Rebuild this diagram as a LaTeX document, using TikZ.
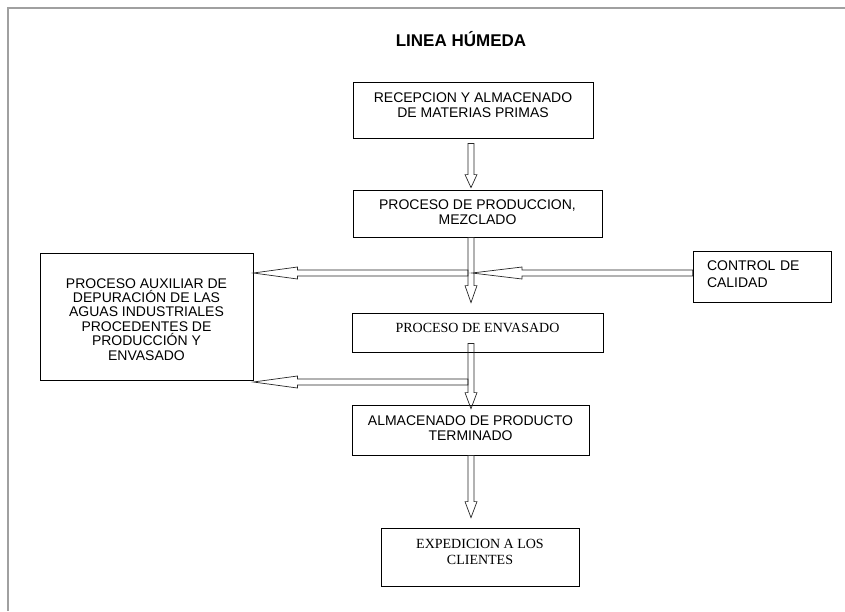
\documentclass[tikz,border=0pt]{standalone}
\usepackage{fontspec}
\setmainfont{Liberation Serif}
\setsansfont{Liberation Sans}
\usetikzlibrary{calc}
\definecolor{pagegray}{HTML}{A0A0A0}
\tikzset{
  stage/.style={draw, line width=0.8pt, inner sep=0pt, align=center,
    font=\sffamily\fontsize{14}{15}\selectfont},
  stageserif/.style={stage, font=\rmfamily\fontsize{14}{16}\selectfont},
  flowarrow/.style={draw=black!85, line width=0.7pt, line join=miter},
  pageedge/.style={draw=pagegray, line width=1.5pt}
}
\newcommand{\hollowarrow}[3]{%
  \draw[flowarrow] let \p1=(#1), \p2=(#2),
    \n1={atan2(\y2-\y1,\x2-\x1)}, \n2={veclen(\x2-\x1,\y2-\y1)} in
    [shift={(\p1)}, rotate=\n1]
    (0pt,3pt) -- ({\n2-#3},3pt) -- ({\n2-#3},6pt) -- (\n2,0pt)
    -- ({\n2-#3},-6pt) -- ({\n2-#3},-3pt) -- (0pt,-3pt) -- cycle;}

\begin{document}
\begin{tikzpicture}[x=1pt, y=-1pt]
  \useasboundingbox (0,0) rectangle (845,611);
  \draw[pageedge] (8,611) -- (8,8) -- (845,8);
  \node[font=\sffamily\bfseries\fontsize{17}{19}\selectfont, anchor=base] (title) at (461,46) {LINEA HÚMEDA};
  % main line
  \node[stage, minimum width=240pt, text height=35pt, text depth=21pt] (rec) at (473,110)
    {RECEPCION Y ALMACENADO\\DE MATERIAS PRIMAS};
  \node[stage, minimum width=249pt, text height=34pt, text depth=13pt] (prod) at (477.5,213.5)
    {PROCESO DE PRODUCCION,\\MEZCLADO};
  \node[stageserif, minimum width=251pt, text height=19pt, text depth=20pt] (env) at (477.5,332.5)
    {PROCESO DE ENVASADO};
  \node[stage, minimum width=237pt, text height=35pt, text depth=15pt] (alm) at (470.5,430)
    {ALMACENADO DE PRODUCTO\\TERMINADO};
  \node[stageserif, minimum width=198pt, text height=36pt, text depth=22pt] (exp) at (480,557)
    {EXPEDICION A LOS\\CLIENTES};
  % side boxes
  \node[stage, align=left, text width=110pt, inner xsep=14pt, font=\sffamily\fontsize{14}{17}\selectfont,
    text height=19pt, text depth=32pt] (ctrl) at (762,276.5) {CONTROL DE\\CALIDAD};
  \node[stage, minimum width=213pt, font=\sffamily\fontsize{14}{14.4}\selectfont,
    text height=107pt, text depth=20pt] (aux) at (146.5,316.5)
    {PROCESO AUXILIAR DE\\DEPURACIÓN DE LAS\\AGUAS INDUSTRIALES\\PROCEDENTES DE\\PRODUCCIÓN Y\\ENVASADO};
  \coordinate (axis) at (471,0);
  \coordinate (mix) at (471,273);
  \coordinate (pack) at (471,382);
  % connectors
  \hollowarrow{$(rec.south -| axis)+(0,5)$}{$(prod.north -| axis)+(0,-2)$}{13pt}
  \hollowarrow{prod.south -| axis}{$(env.north -| axis)+(0,-10)$}{17pt}
  \hollowarrow{$(env.south -| axis)+(0,-9)$}{$(alm.north -| axis)+(0,4)$}{16pt}
  \hollowarrow{alm.south -| axis}{$(exp.north -| axis)+(0,-10)$}{16pt}
  \hollowarrow{$(mix)+(-3,0)$}{aux.east |- mix}{44pt}
  \hollowarrow{ctrl.west |- mix}{$(mix)+(1,0)$}{50pt}
  \hollowarrow{$(pack)+(-3,0)$}{aux.east |- pack}{44pt}
\end{tikzpicture}
\end{document}
